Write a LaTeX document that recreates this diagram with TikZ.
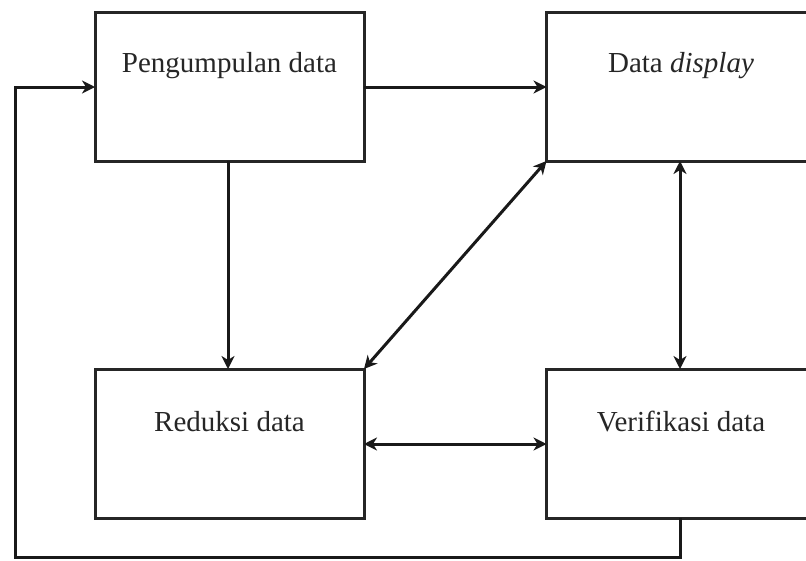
\documentclass[tikz,border=0pt]{standalone}
\usepackage{fontspec}
\setmainfont{Liberation Serif}
\usetikzlibrary{arrows.meta}
\begin{document}
\begin{tikzpicture}[x=1pt,y=-1pt,
  box/.style={draw=black!85, line width=3pt, minimum width=269pt, minimum height=149pt, inner sep=0pt, outer sep=0pt},
  lbl/.style={font=\fontsize{29}{34}\selectfont, text=black!85, inner sep=0pt},
  tip/.style={Stealth[length=13pt,width=13pt,inset=4pt]},
  conn/.style={draw=black!90, line width=3pt, -{Stealth[length=13pt,width=13pt,inset=4pt]}},
  dconn/.style={draw=black!90, line width=3pt, {Stealth[length=13pt,width=13pt,inset=4pt]}-{Stealth[length=13pt,width=13pt,inset=4pt]}}]
\useasboundingbox (0,0) rectangle (806,560);
\fill[white] (0,0) rectangle (806,560);
\clip (0,0) rectangle (806,560);
\node[box] (p) at (229.5,86.5) {};
\node[box] (d) at (681,86.5) {};
\node[box] (r) at (229.5,443.5) {};
\node[box] (v) at (681,443.5) {};
\node[lbl] at (229.5,66) {Pengumpulan data};
\node[lbl] at (681,66) {Data \textit{display}};
\node[lbl] at (229.5,422) {Reduksi data};
\node[lbl] at (681,422) {Verifikasi data};
\coordinate (fb1) at (680,557);
\coordinate (fb2) at (15,557);
\coordinate (fb3) at (15,87);
\draw[conn] (p.east |- 0,87) -- (d.west |- 0,87);
\draw[conn] (p.south -| 228,0) -- (r.north -| 228,0);
\draw[dconn] (d.south west) -- (r.north east);
\draw[dconn] (d.south -| 680,0) -- (v.north -| 680,0);
\draw[dconn] (r.east |- 0,444) -- (v.west |- 0,444);
\draw[conn, line join=miter] (v.south -| 680,0) -- (fb1) -- (fb2) -- (fb3) -- (p.west |- fb3);
\end{tikzpicture}
\end{document}
